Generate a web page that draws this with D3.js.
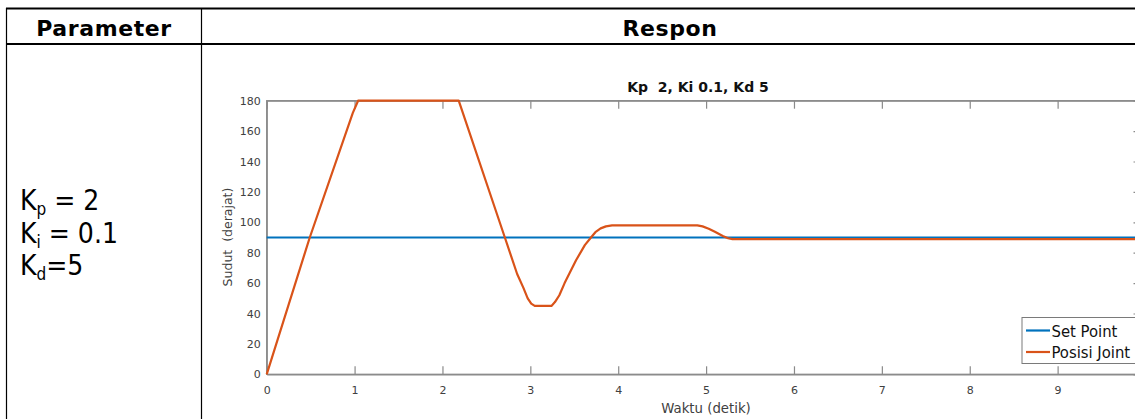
<!DOCTYPE html>
<html><head><meta charset="utf-8">
<script src="https://cdn.jsdelivr.net/npm/d3@7"></script>
<style>
html,body{margin:0;padding:0;background:#fff;}
svg{display:block;}
</style></head>
<body>
<svg id="c" width="1135" height="419"></svg>
<script>
// ---- data ----
const headers = ["Parameter", "Respon"];
const paramNames = ["p", "i", "d"];
const paramValues = [" = 2", " = 0.1", "=5"];
const chartTitle = "Kp  2, Ki 0.1, Kd 5";
const xLabel = "Waktu (detik)";
const yLabel = "Sudut  (derajat)";
const xTicks = [0,1,2,3,4,5,6,7,8,9,10];
const yTicks = [0,20,40,60,80,100,120,140,160,180];
const seriesNames = ["Set Point", "Posisi Joint"];
const setPointTime = [0, 10];
const setPointValue = [90, 90];
const jointTime  = [0, 0.49, 0.98, 1.04, 2.185, 2.71, 2.85, 2.92, 2.97, 3.01, 3.05, 3.24, 3.28, 3.33, 3.39, 3.52, 3.62, 3.69, 3.74, 3.8, 3.86, 3.93, 4.9, 4.96, 5.03, 5.1, 5.19, 5.25, 5.3, 10];
const jointValue = [0, 90, 172, 180, 180, 90, 66, 57, 50, 46.5, 45, 45, 47.5, 52, 60, 75, 85, 90, 93.5, 96, 97.3, 98, 98, 97.3, 95.8, 93.8, 91, 89.5, 88.9, 88.9];
const colors = ["#0072BD", "#D95319"];

const svg = d3.select("#c");

// ---- table frame ----
const tbl = svg.append("g");
tbl.append("line").attr("x1",6).attr("x2",1140).attr("y1",8.5).attr("y2",8.5).attr("stroke","#000").attr("stroke-width",2);
tbl.append("line").attr("x1",6).attr("x2",1140).attr("y1",44).attr("y2",44).attr("stroke","#000").attr("stroke-width",2);
tbl.append("line").attr("x1",6.5).attr("x2",6.5).attr("y1",8).attr("y2",419).attr("stroke","#000").attr("stroke-width",1.2);
tbl.append("line").attr("x1",201.5).attr("x2",201.5).attr("y1",8).attr("y2",419).attr("stroke","#000").attr("stroke-width",1.2);

const headFont = "'DejaVu Sans',sans-serif";
const condFont = "'DejaVu Sans Condensed','DejaVu Sans',sans-serif";
tbl.append("text").attr("x",104).attr("y",36).attr("text-anchor","middle")
  .style("font-family",headFont).style("font-weight","bold").style("font-size","22px").style("letter-spacing","0.6px").text(headers[0]);
tbl.append("text").attr("x",670).attr("y",36).attr("text-anchor","middle")
  .style("font-family",headFont).style("font-weight","bold").style("font-size","22px").style("letter-spacing","0.6px").text(headers[1]);

// parameter text
paramNames.forEach((p,i)=>{
  const t = tbl.append("text").attr("x",20).attr("y",210 + i*32.5)
    .style("font-family",condFont).style("font-size","28px").attr("fill","#000");
  t.append("tspan").text("K");
  t.append("tspan").attr("dy",5).style("font-size","17px").text(p);
  t.append("tspan").attr("dy",-5).text(paramValues[i]);
});

// ---- chart ----
const x = d3.scaleLinear().domain([0,10]).range([266.7,1145.5]);
const y = d3.scaleLinear().domain([0,180]).range([374.3,100.7]);
const axisCol = "#8a8a8a", labCol = "#404040";
const chartFont = "'DejaVu Sans',sans-serif";

const ch = svg.append("g");
ch.append("rect").attr("x",x(0)).attr("y",y(180)).attr("width",x(10)-x(0)).attr("height",y(0)-y(180))
  .attr("fill","none").attr("stroke",axisCol).attr("stroke-width",1.3);

const xb = ch.append("g").attr("transform",`translate(0,${y(0)})`)
  .call(d3.axisBottom(x).tickValues(xTicks).tickSizeInner(-8).tickSizeOuter(0).tickPadding(12).tickFormat(d=> d<10 ? d3.format("d")(d) : ""));
const xt = ch.append("g").attr("transform",`translate(0,${y(180)})`)
  .call(d3.axisTop(x).tickValues(xTicks).tickSizeInner(-8).tickSizeOuter(0).tickFormat(""));
const yl = ch.append("g").attr("transform",`translate(${x(0)},0)`)
  .call(d3.axisLeft(y).tickValues(yTicks).tickSizeInner(0).tickSizeOuter(0).tickPadding(6).tickFormat(d3.format("d")));
const yr = ch.append("g").attr("transform",`translate(${x(10)},0)`)
  .call(d3.axisRight(y).tickValues(yTicks).tickSizeInner(-12).tickSizeOuter(0).tickFormat(""));

[xb,xt,yl,yr].forEach(g=>{
  g.select(".domain").attr("stroke",axisCol).attr("stroke-width",1.3);
  g.selectAll(".tick line").attr("stroke",axisCol).attr("stroke-width",1.2);
  g.selectAll("text").attr("fill",labCol).style("font-family",chartFont).style("font-size","11px");
});

ch.append("text").attr("x",698).attr("y",92).attr("text-anchor","middle").attr("xml:space","preserve").style("white-space","pre")
  .style("font-family",chartFont).style("font-weight","bold").style("font-size","14px").attr("fill","#111").text(chartTitle);
ch.append("text").attr("x",706).attr("y",413).attr("text-anchor","middle")
  .style("font-family",chartFont).style("font-size","13.3px").attr("fill",labCol).text(xLabel);
ch.append("text").attr("transform","translate(232,237) rotate(-90)").attr("text-anchor","middle").attr("xml:space","preserve").style("white-space","pre")
  .style("font-family",chartFont).style("font-size","12.5px").attr("fill",labCol).text(yLabel);

// lines
const line = d3.line().x(d=>x(d[0])).y(d=>y(d[1]));
const sp = setPointTime.map((t,i)=>[t,setPointValue[i]]);
const jp = jointTime.map((t,i)=>[t,jointValue[i]]);
const lineG = ch.append("g");
lineG.append("path").datum(sp).attr("d",line).attr("fill","none").attr("stroke",colors[0]).attr("stroke-width",2.2);
lineG.append("path").datum(jp).attr("d",line).attr("fill","none").attr("stroke",colors[1]).attr("stroke-width",2.2).attr("stroke-linejoin","round");

// legend
const lg = ch.append("g");
lg.append("rect").attr("x",1022).attr("y",317.5).attr("width",140).attr("height",46)
  .attr("fill","#fff").attr("stroke","#7a7a7a").attr("stroke-width",1);
seriesNames.forEach((n,i)=>{
  const yy = 330.5 + i*21.5;
  lg.append("line").attr("x1",1026).attr("x2",1050).attr("y1",yy).attr("y2",yy).attr("stroke",colors[i]).attr("stroke-width",2.2);
  lg.append("text").attr("x",1051.5).attr("y",yy+6).style("font-family",condFont).style("font-size","16.5px").attr("fill","#111").text(n);
});
</script>
</body></html>
